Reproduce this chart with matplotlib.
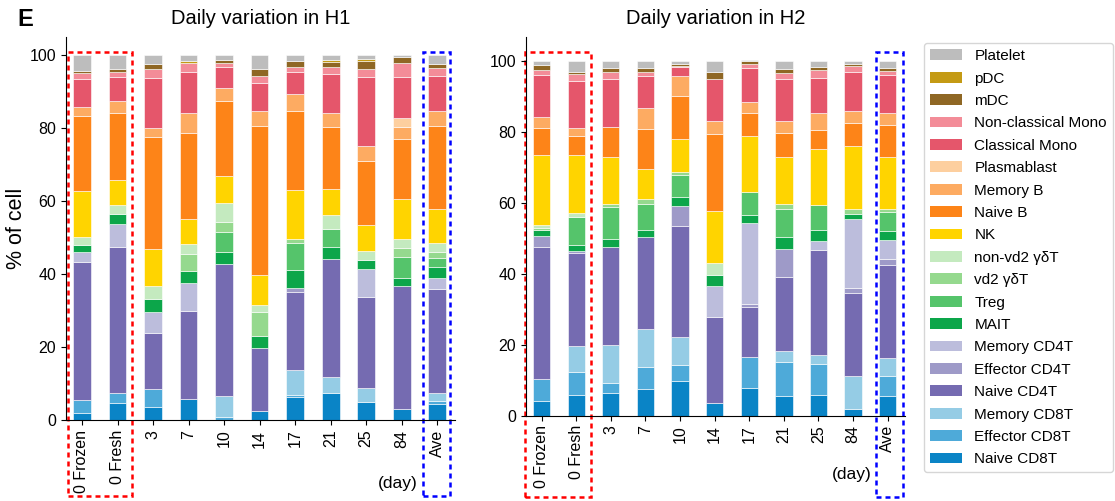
import numpy as np
import matplotlib.pyplot as plt
from matplotlib.patches import Rectangle, Patch

plt.rcParams['font.family'] = ['Liberation Sans', 'DejaVu Sans']

# samples on the x axis
samples = ["0 Frozen", "0 Fresh", "3", "7", "10", "14", "17", "21", "25", "84", "Ave"]

# cell types, stacked from bottom to top
cells = ["Naive CD8T", "Effector CD8T", "Memory CD8T", "Naive CD4T", "Effector CD4T",
         "Memory CD4T", "MAIT", "Treg", "vd2 γδT", "non-vd2 γδT", "NK", "Naive B",
         "Memory B", "Plasmablast", "Classical Mono", "Non-classical Mono", "mDC", "pDC",
         "Platelet"]

colors = ["#0a84c6", "#4eaad9", "#95cce5", "#756bb1", "#9e9ac8", "#bcbddc", "#0ca64a",
          "#55c46b", "#95d98e", "#c4eabf", "#ffd400", "#fd8418", "#fdab62", "#fdcf9f",
          "#e5566b", "#f38c98", "#8f6724", "#c49a14", "#bdbdbd"]

# % of cell, one row per cell type (same order as cells)
h1_pct = [
    [2.0, 4.6, 3.6, 5.8, 0.0, 2.5, 6.4, 7.5, 5.0, 3.0, 4.3],        # Naive CD8T
    [3.5, 2.7, 4.9, 0.0, 0.9, 0.0, 0.4, 0.0, 0.0, 0.0, 0.9],        # Effector CD8T
    [0.0, 0.0, 0.0, 0.0, 5.8, 0.0, 6.9, 4.2, 3.8, 0.0, 2.3],        # Memory CD8T
    [37.7, 40.0, 15.4, 24.1, 36.0, 17.3, 21.4, 32.3, 25.0, 33.8, 28.4],  # Naive CD4T
    [0.0, 0.0, 0.0, 0.0, 0.0, 0.0, 1.1, 0.0, 0.0, 0.0, 0.0],        # Effector CD4T
    [2.9, 6.4, 5.8, 7.6, 0.0, 0.0, 0.0, 0.0, 7.5, 0.0, 2.9],        # Memory CD4T
    [1.8, 2.7, 3.4, 3.3, 3.2, 3.3, 4.9, 3.3, 2.5, 2.0, 3.0],        # MAIT
    [0.0, 0.0, 0.0, 0.0, 5.7, 0.0, 7.3, 4.9, 0.0, 5.9, 2.5],        # Treg
    [0.0, 0.0, 0.0, 4.7, 2.5, 6.6, 1.1, 0.0, 0.0, 2.3, 1.6],        # vd2
    [2.3, 2.5, 3.7, 2.7, 5.3, 1.8, 0.0, 3.9, 2.5, 2.5, 2.7],        # non-vd2
    [12.5, 6.9, 10.0, 6.8, 7.3, 8.2, 13.5, 7.1, 7.1, 11.0, 9.1],    # NK
    [20.6, 18.4, 30.8, 23.7, 20.8, 40.9, 21.7, 17.1, 17.6, 16.5, 22.8],  # Naive B
    [2.3, 3.3, 2.3, 5.5, 3.4, 3.9, 4.6, 3.8, 4.1, 3.2, 4.0],        # Memory B
    [0.0, 0.0, 0.0, 0.0, 0.0, 0.0, 0.0, 0.0, 0.0, 2.4, 0.0],        # Plasmablast
    [7.7, 6.4, 13.7, 11.2, 5.7, 7.9, 5.9, 10.8, 18.8, 11.3, 9.8],   # Classical Mono
    [1.7, 1.4, 2.5, 2.5, 1.1, 1.7, 1.6, 1.8, 2.2, 3.8, 2.0],        # Non-classical Mono
    [0.6, 0.8, 1.4, 0.0, 0.9, 2.0, 1.6, 1.4, 2.1, 1.7, 1.2],        # mDC
    [0.0, 0.0, 0.0, 0.3, 0.0, 0.0, 0.0, 0.6, 0.6, 0.0, 0.0],        # pDC
    [4.4, 3.9, 2.5, 1.8, 1.4, 3.9, 1.6, 1.3, 1.2, 0.6, 2.5],        # Platelet
]

h2_pct = [
    [4.0, 5.8, 6.3, 7.5, 9.8, 3.5, 7.8, 5.4, 5.8, 1.7, 5.6],        # Naive CD8T
    [6.3, 6.6, 2.9, 6.3, 4.5, 0.0, 8.6, 9.6, 8.7, 0.0, 5.6],        # Effector CD8T
    [0.0, 7.3, 10.7, 10.7, 7.7, 0.0, 0.0, 3.1, 2.6, 9.5, 4.9],      # Memory CD8T
    [37.2, 26.0, 27.6, 25.8, 31.4, 24.3, 14.3, 20.9, 29.5, 23.3, 26.2],  # Naive CD4T
    [3.1, 0.6, 0.0, 0.0, 5.6, 0.0, 0.7, 8.0, 0.0, 1.4, 1.9],        # Effector CD4T
    [0.0, 0.0, 0.0, 0.0, 0.0, 8.7, 22.9, 0.0, 2.6, 19.5, 5.4],      # Memory CD4T
    [1.6, 1.7, 2.3, 2.1, 2.6, 3.0, 2.1, 3.3, 3.0, 1.5, 2.4],        # MAIT
    [0.0, 8.0, 9.0, 7.3, 6.3, 0.0, 6.5, 8.0, 7.1, 0.0, 5.4],        # Treg
    [0.7, 0.0, 0.7, 1.2, 0.7, 0.0, 0.0, 1.4, 0.0, 1.2, 0.9],        # vd2
    [0.9, 1.1, 0.0, 0.0, 0.0, 3.6, 0.0, 0.0, 0.0, 0.0, 0.0],        # non-vd2
    [19.7, 16.4, 13.4, 8.6, 9.4, 14.5, 15.9, 13.3, 15.9, 17.9, 14.6],  # NK
    [7.5, 5.2, 8.4, 11.2, 12.1, 21.8, 6.6, 6.6, 5.3, 6.4, 9.0],     # Naive B
    [3.1, 2.3, 0.0, 5.9, 5.6, 3.7, 3.1, 3.5, 4.9, 3.3, 3.5],        # Memory B
    [0.0, 0.0, 0.0, 0.0, 0.0, 0.0, 0.0, 0.0, 0.0, 0.0, 0.0],        # Plasmablast
    [11.9, 13.4, 13.5, 9.1, 2.6, 11.9, 9.4, 11.7, 9.7, 11.2, 10.6], # Classical Mono
    [1.4, 1.8, 2.1, 1.2, 0.2, 0.0, 1.2, 1.7, 2.3, 1.6, 1.2],        # Non-classical Mono
    [1.4, 0.7, 1.2, 1.0, 0.6, 1.7, 0.7, 1.1, 0.9, 0.6, 0.8],        # mDC
    [0.0, 0.0, 0.0, 0.0, 0.0, 0.0, 0.0, 0.0, 0.0, 0.0, 0.0],        # pDC
    [1.2, 3.1, 1.9, 2.1, 0.9, 3.3, 0.3, 2.4, 1.7, 0.9, 2.0],        # Platelet
]


def stacked(ax, pct, title, ytop, red_box, blue_box, day_xy):
    x = np.arange(len(samples))
    bottom = np.zeros(len(samples))
    for col, row in zip(colors, pct):
        v = np.array(row)
        m = v > 0
        ax.bar(x[m], v[m], 0.5, bottom=bottom[m], color=col, edgecolor='white', linewidth=0.4)
        bottom += v
    ax.set_xlim(-0.45, 10.5)
    ax.set_ylim(0, ytop)
    ax.set_yticks([0, 20, 40, 60, 80, 100])
    ax.set_xticks(x, samples, rotation=90)
    ax.tick_params(labelsize=11.5, length=3.5)
    ax.spines['top'].set_visible(False)
    ax.spines['right'].set_visible(False)
    ax.set_title(title, fontsize=14.5, pad=9)
    ax.text(day_xy[0], day_xy[1], "(day)", transform=ax.transAxes, fontsize=12.5,
            ha='center', va='center')
    # dashed boxes around the day-0 pair and the average
    for (x0, x1, y0, y1), c in [(red_box, 'red'), (blue_box, 'blue')]:
        ax.add_patch(Rectangle((x0, y0), x1 - x0, y1 - y0, transform=ax.get_xaxis_transform(),
                               fill=False, edgecolor=c, lw=1.8, ls=(0, (2, 1.6)), clip_on=False))


fig = plt.figure(figsize=(11.15, 5.01), dpi=100)
ax1 = fig.add_axes([66 / 1115, 81 / 501, 389 / 1115, 383 / 501])
ax2 = fig.add_axes([526 / 1115, 85.5 / 501, 379 / 1115, 378.5 / 501])

stacked(ax1, h1_pct, "Daily variation in H1", 104.9,
        (-0.4, 1.4, -0.198, 0.961), (9.6, 10.37, -0.198, 0.961), (0.853, -0.167))
stacked(ax2, h2_pct, "Daily variation in H2", 106.7,
        (-0.49, 1.42, -0.215, 0.96), (9.65, 10.43, -0.215, 0.96), (0.86, -0.155))

ax1.set_ylabel("% of cell", fontsize=15.5, labelpad=2)
fig.text(17 / 1115, 1 - 20 / 501, "E", fontsize=17, fontweight='bold', va='center')

handles = [Patch(facecolor=c) for c in colors][::-1]
fig.legend(handles, cells[::-1], loc='upper left', bbox_to_anchor=(924 / 1115, 1 - 43 / 501),
           fontsize=11, labelspacing=0.55, handlelength=2.1, handleheight=0.7,
           handletextpad=0.8, borderpad=0.4, borderaxespad=0)

fig.savefig("out.png", dpi=100)
